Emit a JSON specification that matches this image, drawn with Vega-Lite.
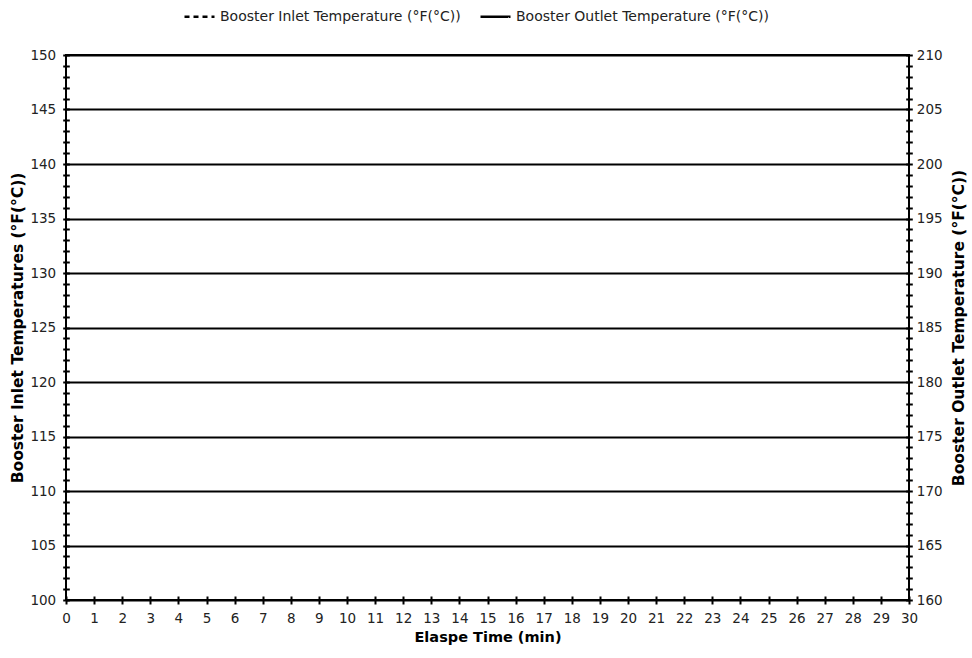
{
  "$schema": "https://vega.github.io/schema/vega-lite/v6.json",
  "width": 843,
  "height": 545,
  "autosize": {"type": "none"},
  "padding": {"left": 66, "top": 55, "right": 63, "bottom": 58},
  "background": "white",
  "data": {
    "values": [
      {"series": "Booster Inlet Temperature (°F(°C))", "time": 0, "temperature": null},
      {"series": "Booster Inlet Temperature (°F(°C))", "time": 30, "temperature": null},
      {"series": "Booster Outlet Temperature (°F(°C))", "time": 0, "temperature": null},
      {"series": "Booster Outlet Temperature (°F(°C))", "time": 30, "temperature": null}
    ]
  },
  "encoding": {
    "x": {
      "field": "time",
      "type": "quantitative",
      "scale": {"domain": [0, 30], "nice": false, "zero": false},
      "axis": {
        "title": "Elaspe Time (min)",
        "values": [0,1,2,3,4,5,6,7,8,9,10,11,12,13,14,15,16,17,18,19,20,21,22,23,24,25,26,27,28,29,30],
        "format": "d",
        "domain": false,
        "grid": false,
        "offset": -4,
        "tickSize": 8,
        "tickWidth": 2,
        "tickColor": "black",
        "labelPadding": 7,
        "labelFont": "DejaVu Sans",
        "labelFontSize": 13.5,
        "labelColor": "#222",
        "labelFlush": false,
        "labelOverlap": false,
        "titleFont": "DejaVu Sans",
        "titleFontSize": 14.5,
        "titleFontWeight": "bold",
        "titleColor": "black",
        "titlePadding": 6
      }
    },
    "strokeDash": {
      "field": "series",
      "type": "nominal",
      "scale": {
        "domain": ["Booster Inlet Temperature (°F(°C))", "Booster Outlet Temperature (°F(°C))"],
        "range": [[5, 4], [1, 0]]
      },
      "legend": {
        "title": null,
        "orient": "none",
        "direction": "horizontal",
        "legendX": 117,
        "legendY": -55,
        "padding": 0,
        "symbolType": "stroke",
        "symbolSize": 900,
        "symbolStrokeWidth": 2.5,
        "symbolStrokeColor": "black",
        "labelOffset": 4,
        "columnPadding": 14,
        "labelFont": "DejaVu Sans",
        "labelFontSize": 14,
        "labelColor": "#222",
        "labelLimit": 400
      }
    }
  },
  "layer": [
    {
      "transform": [{"filter": "datum.series === 'Booster Inlet Temperature (°F(°C))'"}],
      "mark": {"type": "line", "color": "black", "strokeWidth": 2},
      "encoding": {
        "y": {
          "field": "temperature",
          "type": "quantitative",
          "scale": {"domain": [100, 150], "nice": false, "zero": false},
          "axis": {
            "orient": "left",
            "title": "Booster Inlet Temperatures (°F(°C))",
            "values": [100,101,102,103,104,105,106,107,108,109,110,111,112,113,114,115,116,117,118,119,120,121,122,123,124,125,126,127,128,129,130,131,132,133,134,135,136,137,138,139,140,141,142,143,144,145,146,147,148,149,150],
            "format": "d",
            "labelExpr": "datum.value % 5 === 0 ? datum.label : ''",
            "labelOverlap": false,
            "labelFlush": false,
            "domain": false,
            "offset": -3.3,
            "tickSize": 6.6,
            "tickWidth": 2,
            "tickColor": "black",
            "grid": true,
            "gridColor": "black",
            "gridWidth": 2,
            "gridOpacity": {"condition": {"test": "datum.value % 5 === 0", "value": 1}, "value": 0},
            "labelPadding": 7,
            "labelFont": "DejaVu Sans",
            "labelFontSize": 13.5,
            "labelColor": "#222",
            "titleFont": "DejaVu Sans",
            "titleFontSize": 15.5,
            "titleFontWeight": "bold",
            "titleColor": "black",
            "titlePadding": 4
          }
        }
      }
    },
    {
      "transform": [{"filter": "datum.series === 'Booster Outlet Temperature (°F(°C))'"}],
      "mark": {"type": "line", "color": "black", "strokeWidth": 2},
      "encoding": {
        "y": {
          "field": "temperature",
          "type": "quantitative",
          "scale": {"domain": [160, 210], "nice": false, "zero": false},
          "axis": {
            "orient": "right",
            "title": "Booster Outlet Temperature (°F(°C))",
            "values": [160,161,162,163,164,165,166,167,168,169,170,171,172,173,174,175,176,177,178,179,180,181,182,183,184,185,186,187,188,189,190,191,192,193,194,195,196,197,198,199,200,201,202,203,204,205,206,207,208,209,210],
            "format": "d",
            "labelExpr": "datum.value % 5 === 0 ? datum.label : ''",
            "labelOverlap": false,
            "labelFlush": false,
            "domain": false,
            "offset": -3.3,
            "tickSize": 6.6,
            "tickWidth": 2,
            "tickColor": "black",
            "grid": false,
            "labelPadding": 4,
            "labelFont": "DejaVu Sans",
            "labelFontSize": 13.5,
            "labelColor": "#222",
            "titleFont": "DejaVu Sans",
            "titleFontSize": 15.5,
            "titleFontWeight": "bold",
            "titleColor": "black",
            "titleAngle": 270,
            "titleBaseline": "top",
            "titlePadding": 9
          }
        }
      }
    }
  ],
  "resolve": {"scale": {"y": "independent"}},
  "config": {
    "view": {"stroke": "black", "strokeWidth": 2}
  }
}
